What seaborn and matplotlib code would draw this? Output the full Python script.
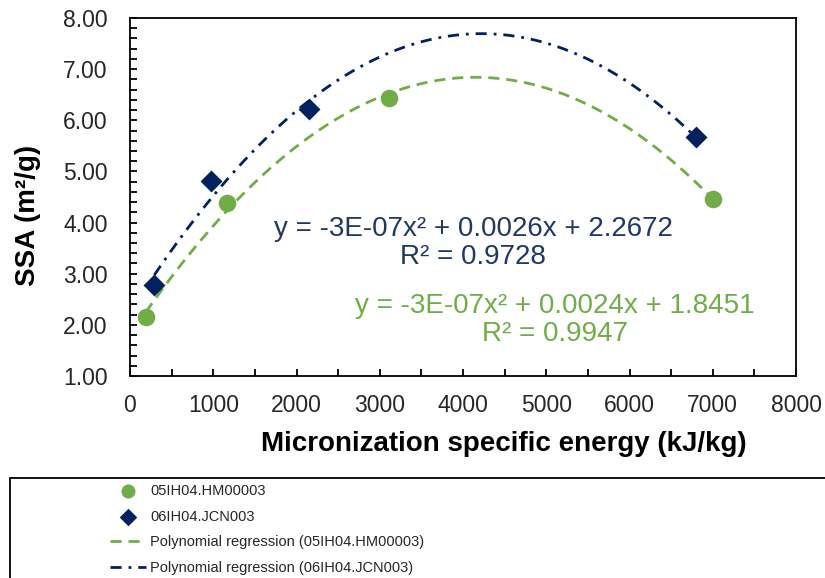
import numpy as np
import pandas as pd
import matplotlib
matplotlib.use("Agg")
import matplotlib.pyplot as plt
from matplotlib.patches import Rectangle
from matplotlib.ticker import MultipleLocator, FormatStrFormatter
import seaborn as sns

# ---- data ----
hm_energy = [188, 1161, 3107, 7007]
hm_ssa = [2.15, 4.39, 6.44, 4.46]
jcn_energy = [292, 973, 2154, 6795]
jcn_ssa = [2.78, 4.81, 6.23, 5.68]

series_names = ["05IH04.HM00003", "06IH04.JCN003"]
fit_names = ["Polynomial regression (05IH04.HM00003)",
             "Polynomial regression (06IH04.JCN003)"]
eq_hm = "y = -3E-07x\u00b2 + 0.0024x + 1.8451\nR\u00b2 = 0.9947"
eq_jcn = "y = -3E-07x\u00b2 + 0.0026x + 2.2672\nR\u00b2 = 0.9728"
x_label = "Micronization specific energy (kJ/kg)"
y_label = "SSA (m\u00b2/g)"

GREEN = "#70AD47"
NAVY = "#002060"
NAVY_TXT = "#203864"

sns.set_theme(style="white")
plt.rcParams["font.family"] = ["Liberation Sans", "DejaVu Sans"]

W, H = 825, 578
fig = plt.figure(figsize=(W / 100, H / 100), dpi=100)
ax = fig.add_axes([130 / W, 1 - 376 / H, (796 - 130) / W, (376 - 18) / H])

df_hm = pd.DataFrame({"x": hm_energy, "y": hm_ssa})
df_jcn = pd.DataFrame({"x": jcn_energy, "y": jcn_ssa})

sns.regplot(data=df_hm, x="x", y="y", order=2, ci=None, scatter=False, ax=ax,
            line_kws=dict(color=GREEN, lw=2.0, linestyle=(0, (4, 2.5))))
line_hm = ax.lines[-1]
sns.regplot(data=df_jcn, x="x", y="y", order=2, ci=None, scatter=False, ax=ax,
            line_kws=dict(color=NAVY, lw=2.0, linestyle=(0, (4, 2.5, 1, 2.5))))
line_jcn = ax.lines[-1]
sns.scatterplot(data=df_hm, x="x", y="y", ax=ax, color=GREEN, marker="o", s=160,
                linewidth=0, zorder=5, legend=False)
pts_hm = ax.collections[-1]
sns.scatterplot(data=df_jcn, x="x", y="y", ax=ax, color=NAVY, marker="D", s=125,
                linewidth=0, zorder=5, legend=False)
pts_jcn = ax.collections[-1]

ax.set_xlim(0, 8000)
ax.set_ylim(1, 8)
ax.xaxis.set_major_locator(MultipleLocator(1000))
ax.xaxis.set_minor_locator(MultipleLocator(500))
ax.yaxis.set_major_locator(MultipleLocator(1))
ax.yaxis.set_minor_locator(MultipleLocator(0.2))
ax.yaxis.set_major_formatter(FormatStrFormatter("%.2f"))
ax.tick_params(which="both", direction="in", length=5, width=1.3, color="black",
               bottom=True, left=True, top=False, right=False)
ax.tick_params(axis="y", which="major", pad=16, labelsize=16.5, labelcolor="#262626")
ax.tick_params(axis="x", which="major", pad=13, labelsize=16.5, labelcolor="#262626")
for sp in ax.spines.values():
    sp.set_color("black")
    sp.set_linewidth(1.3)

ax.set_xlabel(x_label, fontsize=20, fontweight="bold", color="black", labelpad=6)
ax.set_ylabel(y_label, fontsize=20, fontweight="bold", color="black", labelpad=4)
ax.xaxis.set_label_coords((504 - 130) / 666, -0.155)
ax.yaxis.set_label_coords(-0.134, (376 - 215) / 358)

fig.text(473 / W, 1 - 243 / H, eq_jcn, ha="center", va="center", multialignment="center",
         fontsize=20, color=NAVY_TXT, linespacing=1.1)
fig.text(555 / W, 1 - 320 / H, eq_hm, ha="center", va="center", multialignment="center",
         fontsize=20, color=GREEN, linespacing=1.1)

leg = fig.legend([pts_hm, pts_jcn, line_hm, line_jcn], series_names + fit_names,
                 loc="upper left", bbox_to_anchor=(110 / W, 1 - 484 / H),
                 frameon=False, fontsize=10.5, borderpad=0, handlelength=2.5,
                 handletextpad=0.25, labelspacing=0.8, markerscale=0.8,
                 borderaxespad=0)

fig.patches.append(Rectangle((10 / W, -0.05), 1.2, (1 - 478 / H) + 0.05,
                             transform=fig.transFigure, fill=False,
                             edgecolor="black", linewidth=1.3, clip_on=False))

fig.savefig("out.png", dpi=100)
